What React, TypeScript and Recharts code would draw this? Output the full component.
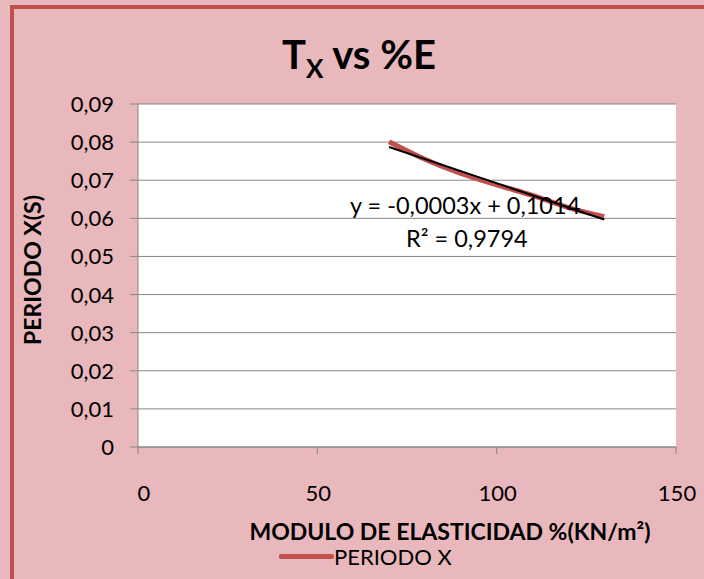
import React from 'react';
import { ComposedChart, Line, XAxis, YAxis, CartesianGrid, Label } from 'recharts';

const modulo = [70, 80, 90, 100, 110, 120, 130];
const periodoX = [0.0801, 0.0755, 0.0718, 0.0688, 0.066, 0.0628, 0.0604];
const trendX = [70, 130];
const trendY = [0.0787, 0.0597];
const xTicks = [0, 50, 100, 150];
const yTicks = [0, 0.01, 0.02, 0.03, 0.04, 0.05, 0.06, 0.07, 0.08, 0.09];
const equationText = 'y = -0,0003x + 0,1014';
const r2Text = 'R² = 0,9794';
const seriesName = 'PERIODO X';

const data = modulo.map((x, i) => ({ x, periodo: periodoX[i] }));
const trend = trendX.map((x, i) => ({ x, trend: trendY[i] }));

const FONT = 'Lato, "Open Sans", sans-serif';

const XTick = (props: any) => {
  const { x, y, payload } = props;
  return (
    <text x={x + (payload.value === 0 ? 6 : 1)} y={y + 45} textAnchor="middle" fontSize={22} fill="#000" fontFamily={FONT}>
      {payload.value}
    </text>
  );
};

const YTick = (props: any) => {
  const { x, y, payload } = props;
  const v = payload.value === 0 ? '0' : Number(payload.value).toFixed(2).replace('.', ',');
  return (
    <text x={x - 14} y={y + 8} textAnchor="end" fontSize={22} fill="#000" fontFamily={FONT}>
      {v}
    </text>
  );
};

export default function App() {
  return (
    <div style={{ position: 'absolute', left: 0, top: 0, width: 704, height: 579, background: '#e8b8bc', overflow: 'hidden' }}>
      <div style={{ position: 'absolute', left: 10, top: 5, width: 694, height: 4, background: '#c0504d' }} />
      <div style={{ position: 'absolute', left: 10, top: 5, width: 4, height: 574, background: '#c0504d' }} />
      <div style={{ position: 'absolute', left: 282, top: 30, whiteSpace: 'nowrap', fontFamily: FONT, fontWeight: 700, fontSize: 40, color: '#000' }}>
        T<sub style={{ fontSize: 26 }}>X</sub> vs %E
      </div>
      <div style={{ position: 'absolute', left: 0, top: 0 }}>
        <ComposedChart width={704} height={579} margin={{ top: 104, right: 28, left: 0, bottom: 72 }}>
          <CartesianGrid vertical={false} stroke="#878787" strokeWidth={1} fill="#ffffff" />
          <XAxis
            type="number"
            dataKey="x"
            domain={[0, 150]}
            ticks={xTicks}
            height={60}
            stroke="#878787"
            tickSize={7}
            tick={<XTick />}
            allowDuplicatedCategory={false}
          >
            <Label
              content={(p: any) => {
                const vb = p.viewBox;
                return (
                  <text x={450} y={vb.y + 93} textAnchor="middle" fontSize={23} fontWeight={700} fontFamily={FONT} fill="#000">
                    MODULO DE ELASTICIDAD %(KN/m²)
                  </text>
                );
              }}
            />
          </XAxis>
          <YAxis
            type="number"
            domain={[0, 0.09]}
            ticks={yTicks}
            width={138}
            stroke="#878787"
            tickSize={8}
            tick={<YTick />}
          >
            <Label
              content={() => (
                <text x={41} y={270} textAnchor="middle" fontSize={23} fontWeight={700} fontFamily={FONT} fill="#000" transform="rotate(-90 41 270)">
                  PERIODO X(S)
                </text>
              )}
            />
          </YAxis>
          <Line data={data} dataKey="periodo" name={seriesName} type="monotone" stroke="#c0504d" strokeWidth={5} dot={false} isAnimationActive={false} />
          <Line data={trend} dataKey="trend" name="Lineal" type="linear" stroke="#000" strokeWidth={2} dot={false} isAnimationActive={false} legendType="none" />
        </ComposedChart>
      </div>
      <div style={{ position: 'absolute', left: 350, top: 191, fontFamily: FONT, fontSize: 23.5, color: '#000', whiteSpace: 'nowrap' }}>{equationText}</div>
      <div style={{ position: 'absolute', left: 406, top: 224, fontFamily: FONT, fontSize: 23.5, color: '#000', whiteSpace: 'nowrap' }}>{r2Text}</div>
      <div style={{ position: 'absolute', left: 279, top: 543, display: 'flex', alignItems: 'center', fontFamily: FONT, fontSize: 22, color: '#000' }}>
        <div style={{ width: 55, height: 5, background: '#c0504d', borderRadius: 2 }} />
        <span>{seriesName}</span>
      </div>
    </div>
  );
}
